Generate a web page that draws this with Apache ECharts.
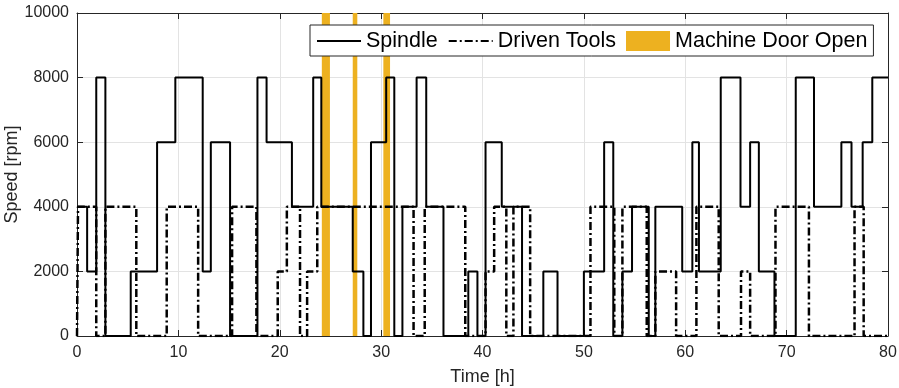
<!DOCTYPE html>
<html>
<head>
<meta charset="utf-8">
<script src="https://cdn.jsdelivr.net/npm/echarts@6/dist/echarts.min.js"></script>
<style>
  html, body { margin: 0; padding: 0; background: #fff; }
  #chart { width: 899px; height: 388px; }
</style>
</head>
<body>
<div id="chart"></div>
<script>
// spindle speed: time where a new level starts [h], level [rpm]
var spindleTime = [0, 1.0, 1.9, 2.8, 5.3, 7.9, 9.7, 12.4, 13.2, 15.1, 17.8, 18.7, 21.2, 23.3, 24.1,
  27.2, 28.25, 29.0, 30.5, 31.3, 32.1, 33.5, 34.45, 36.15, 38.6, 39.5, 40.3, 41.9, 43.9, 46.0,
  47.4, 50.0, 52.0, 52.9, 53.8, 54.75, 56.4, 57.05, 59.7, 60.7, 61.35, 63.5, 65.45, 66.4, 67.26,
  68.8, 70.9, 72.7, 75.4, 76.4, 77.5, 78.45, 80]
var spindleSpeed = [4000, 2000, 8000, 0, 2000, 6000, 8000, 2000, 6000, 0, 8000, 6000, 4000, 8000, 4000,
  2000, 0, 6000, 8000, 0, 4000, 8000, 4000, 0, 2000, 0, 6000, 4000, 0, 2000,
  0, 2000, 6000, 0, 2000, 4000, 0, 4000, 2000, 6000, 2000, 8000, 4000, 6000, 2000,
  0, 8000, 4000, 6000, 4000, 6000, 8000, 8000]

// driven tools speed
var toolsTime = [0, 0.1, 1.9, 2.8, 5.85, 8.85, 11.95, 15.3, 17.7, 19.8, 20.7, 22.0, 22.7, 23.7,
  33.2, 34.3, 38.3, 40.3, 41.15, 42.35, 43.05, 44.7, 50.65, 53.0, 53.8, 56.2, 57.05, 59.1,
  61.1, 63.3, 65.5, 66.4, 68.9, 72.2, 76.7, 77.6, 80]
var toolsSpeed = [0, 4000, 0, 4000, 0, 4000, 0, 4000, 0, 2000, 4000, 0, 2000, 4000,
  0, 4000, 0, 2000, 4000, 0, 4000, 0, 4000, 0, 4000, 0, 2000, 0,
  4000, 0, 2000, 0, 4000, 0, 4000, 0, 0]

// machine door open intervals [h]
var doorStart = [24.15, 27.2, 30.22]
var doorEnd = [24.95, 27.65, 30.88]

var xTicks = [0, 80, 10]       // min, max, interval
var yTicks = [0, 10000, 2000]

function pairs(t, v) {
  return t.map(function (x, i) { return [x, v[i]] })
}

var font = "'Liberation Sans', Arial, sans-serif"
var axisCol = '#262626'
var noMarker = { color: 'rgba(0,0,0,0)', borderColor: 'rgba(0,0,0,0)', borderWidth: 0 }

var chart = echarts.init(document.getElementById('chart'), null, { renderer: 'canvas' })

var option = {
  animation: false,
  grid: { left: 77, right: 11, top: 13, bottom: 52, containLabel: false, outerBoundsMode: 'none' },
  legend: {
    left: 310, top: 25,
    padding: [5, 6, 4, 6],
    itemGap: 10,
    itemWidth: 44, itemHeight: 20,
    backgroundColor: '#fff',
    borderColor: axisCol, borderWidth: 1,
    textStyle: { fontFamily: font, fontSize: 21.5, color: '#000' },
    data: [
      { name: 'Spindle', itemStyle: noMarker },
      { name: 'Driven Tools', itemStyle: noMarker },
      { name: 'Machine Door Open', icon: 'rect', itemStyle: { color: '#EDB120' } }
    ]
  },
  xAxis: [{
    type: 'value', min: xTicks[0], max: xTicks[1], interval: xTicks[2],
    name: 'Time [h]', nameLocation: 'middle', nameGap: 32, nameMoveOverlap: false,
    nameTextStyle: { fontFamily: font, fontSize: 18, color: axisCol },
    axisLine: { show: true, lineStyle: { color: axisCol, width: 1 } },
    axisTick: { show: true, inside: true, length: 6, lineStyle: { color: axisCol } },
    axisLabel: { fontFamily: font, fontSize: 16, color: axisCol, margin: 9 },
    splitLine: { show: true, lineStyle: { color: '#e3e3e3', width: 1 } }
  }, {
    type: 'value', position: 'top', min: xTicks[0], max: xTicks[1], interval: xTicks[2],
    axisLine: { show: true, onZero: false, lineStyle: { color: axisCol, width: 1 } },
    axisTick: { show: true, inside: true, length: 6, lineStyle: { color: axisCol } },
    axisLabel: { show: false },
    splitLine: { show: false }
  }],
  yAxis: [{
    type: 'value', min: yTicks[0], max: yTicks[1], interval: yTicks[2],
    name: 'Speed [rpm]', nameLocation: 'middle', nameGap: 56, nameMoveOverlap: false,
    nameTextStyle: { fontFamily: font, fontSize: 18, color: axisCol },
    axisLine: { show: true, lineStyle: { color: axisCol, width: 1 } },
    axisTick: { show: true, inside: true, length: 6, lineStyle: { color: axisCol } },
    axisLabel: { fontFamily: font, fontSize: 16, color: axisCol, margin: 8,
      formatter: function (v) { return String(v) } },
    splitLine: { show: true, lineStyle: { color: '#e3e3e3', width: 1 } }
  }, {
    type: 'value', position: 'right', min: yTicks[0], max: yTicks[1], interval: yTicks[2],
    axisLine: { show: true, onZero: false, lineStyle: { color: axisCol, width: 1 } },
    axisTick: { show: true, inside: true, length: 6, lineStyle: { color: axisCol } },
    axisLabel: { show: false },
    splitLine: { show: false }
  }],
  series: [{
    name: 'Spindle', type: 'line', step: 'end',
    data: pairs(spindleTime, spindleSpeed),
    symbol: 'none', color: '#000',
    lineStyle: { color: '#000', width: 2 },
    z: 3
  }, {
    name: 'Driven Tools', type: 'line', step: 'end',
    data: pairs(toolsTime, toolsSpeed),
    symbol: 'none', color: '#000',
    lineStyle: { color: '#000', width: 2.5, type: [8, 3, 2, 3] },
    z: 4
  }, {
    name: 'Machine Door Open', type: 'line',
    data: [], symbol: 'none', color: '#EDB120',
    markArea: {
      silent: true,
      itemStyle: { color: '#EDB120', opacity: 1 },
      data: doorStart.map(function (s, i) {
        return [{ xAxis: s, yAxis: yTicks[0] }, { xAxis: doorEnd[i], yAxis: yTicks[1] }]
      })
    },
    z: 5
  }]
}

chart.setOption(option)
</script>
</body>
</html>
